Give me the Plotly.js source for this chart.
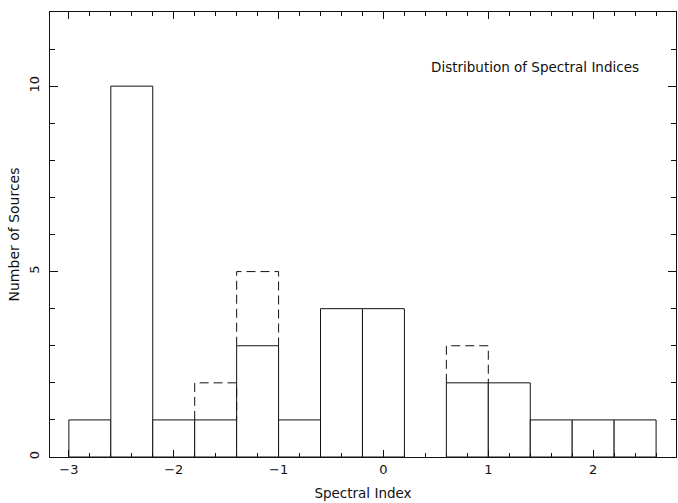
<!DOCTYPE html>
<html>
<head>
<meta charset="utf-8">
<script src="https://cdn.plot.ly/plotly-3.0.1.min.js"></script>
<style>html,body{margin:0;padding:0;background:#fff;}#chart{width:678px;height:503px;}</style>
</head>
<body>
<div id="chart"></div>
<script>
// Histogram bin edges (spectral index)
const binEdges = [-3.0, -2.6, -2.2, -1.8, -1.4, -1.0, -0.6, -0.2, 0.2, 0.6, 1.0, 1.4, 1.8, 2.2, 2.6];
// Solid histogram counts
const solidCounts = [1, 10, 1, 1, 3, 1, 4, 4, 0, 2, 2, 1, 1, 1];
// Dashed histogram counts
const dashedCounts = [1, 10, 1, 2, 5, 1, 4, 4, 0, 3, 2, 1, 1, 1];

const titleText = "Distribution of Spectral Indices";
const xTitle = "Spectral Index";
const yTitle = "Number of Sources";

const FONT = "DejaVu Sans, Liberation Sans, Arial, sans-serif";
const INK = "#111";

// solid bars
const bx = [], by = [], bw = [];
for (let i = 0; i < solidCounts.length; i++) {
  if (solidCounts[i] > 0) {
    bx.push((binEdges[i] + binEdges[i + 1]) / 2);
    by.push(solidCounts[i]);
    bw.push(binEdges[i + 1] - binEdges[i]);
  }
}
// dashed outlines where dashed exceeds solid
const dx = [], dy = [];
for (let i = 0; i < dashedCounts.length; i++) {
  if (dashedCounts[i] > solidCounts[i]) {
    const xl = binEdges[i], xr = binEdges[i + 1];
    dx.push(xl, xl, xr, xr, null);
    dy.push(solidCounts[i], dashedCounts[i], dashedCounts[i], solidCounts[i], null);
  }
}

const traces = [
  {
    type: "bar", x: bx, y: by, width: bw,
    marker: {color: "#ffffff", line: {color: INK, width: 1}},
    hoverinfo: "none", showlegend: false
  },
  {
    type: "scatter", mode: "lines", x: dx, y: dy,
    line: {color: INK, width: 1, dash: "9px,5px"},
    hoverinfo: "none", showlegend: false, connectgaps: false
  }
];

const layout = {
  width: 678, height: 503,
  margin: {l: 50, r: 2, t: 12, b: 46},
  paper_bgcolor: "#fff", plot_bgcolor: "#fff",
  font: {family: FONT, size: 13, color: INK},
  barmode: "overlay",
  xaxis: {
    range: [-3.18, 2.79], showgrid: false, zeroline: false,
    showline: true, linecolor: INK, linewidth: 1, mirror: "ticks",
    ticks: "inside", ticklen: 7, tickcolor: INK, tickwidth: 1,
    tick0: 0, dtick: 1,
    minor: {dtick: 0.2, tick0: 0, ticks: "inside", ticklen: 4, tickcolor: INK, tickwidth: 1, showgrid: false},
    tickfont: {size: 13},
    title: {text: xTitle, font: {size: 13.5}, standoff: 12}
  },
  yaxis: {
    range: [0, 12], showgrid: false, zeroline: false,
    showline: true, linecolor: INK, linewidth: 1, mirror: "ticks",
    ticks: "inside", ticklen: 8, tickcolor: INK, tickwidth: 1,
    tick0: 0, dtick: 5, tickangle: -90, ticklabelstandoff: 5,
    minor: {dtick: 1, tick0: 0, ticks: "inside", ticklen: 5, tickcolor: INK, tickwidth: 1, showgrid: false},
    tickfont: {size: 13},
    title: {text: yTitle, font: {size: 14}, standoff: 3}
  },
  annotations: [{
    text: titleText, xref: "paper", yref: "paper",
    x: 0.775, y: 0.876, xanchor: "center", yanchor: "middle",
    showarrow: false, font: {size: 13.5, color: INK}
  }]
};

Plotly.newPlot("chart", traces, layout, {staticPlot: true, displayModeBar: false});
</script>
</body>
</html>
